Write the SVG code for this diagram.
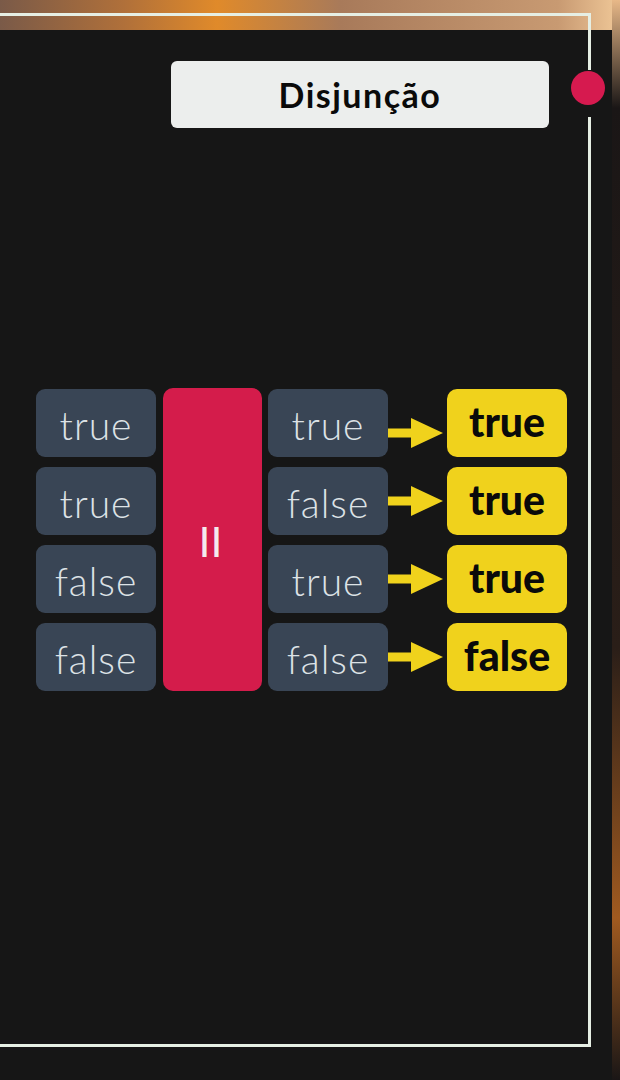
<svg xmlns="http://www.w3.org/2000/svg" width="620" height="1080" viewBox="0 0 620 1080">
<style>
.in{fill:#394555}
.res{fill:#f0d21c}
.tin{font-family:Lato,"Liberation Sans",sans-serif;font-weight:300;font-size:39px;letter-spacing:1px;fill:#dde2e6;text-anchor:middle}
.tres{font-family:Lato,"Liberation Sans",sans-serif;font-weight:900;font-size:41px;fill:#0a0a0a;text-anchor:middle}
.frame{stroke:#e6efe4;stroke-width:3;fill:none}
.arrow{fill:#f0d21c}
</style>
<defs>
<linearGradient id="topbg" x1="0" y1="0" x2="1" y2="0">
<stop offset="0" stop-color="#7a5a48"/>
<stop offset="0.2" stop-color="#b0703a"/>
<stop offset="0.35" stop-color="#e08a2a"/>
<stop offset="0.55" stop-color="#a87a5a"/>
<stop offset="0.9" stop-color="#c89a72"/>
<stop offset="1" stop-color="#f0c898"/>
</linearGradient>
<linearGradient id="rightbg" x1="0" y1="0" x2="0" y2="1">
<stop offset="0" stop-color="#e8b888"/>
<stop offset="0.1" stop-color="#1a1616"/>
<stop offset="0.6" stop-color="#2a1e18"/>
<stop offset="0.85" stop-color="#a05a20"/>
<stop offset="1" stop-color="#1a1616"/>
</linearGradient>
</defs>
<rect x="0" y="0" width="620" height="1080" fill="#161616"/>
<rect x="0" y="0" width="620" height="30" fill="url(#topbg)"/>
<rect x="612" y="0" width="8" height="1080" fill="url(#rightbg)"/>
<rect x="0" y="30" width="612" height="1050" fill="#161616"/>
<g id="frame">
<path class="frame" d="M0 14.5 H589.5 V70"/>
<path class="frame" d="M589.5 117 V1045.5 H0"/>
<circle cx="588" cy="88" r="17" fill="#d61a4f"/>
</g>
<g id="title">
<rect x="171" y="61" width="378" height="67" rx="6" fill="#eceeed"/>
<text x="360" y="108" font-family="Lato,'Liberation Sans',sans-serif" font-weight="700" font-size="34" letter-spacing="1.5" fill="#0a0a0a" text-anchor="middle">Disjunção</text>
</g>
<g id="operator">
<rect x="163" y="388" width="99" height="303" rx="10" fill="#d41c4b"/>
<text x="212" y="550" font-family="'Liberation Sans',sans-serif" font-weight="700" font-size="32" letter-spacing="3" fill="#f4eaee" text-anchor="middle">||</text>
</g>
<g id="a1"><rect class="in" x="36" y="389" width="120" height="68" rx="9"/><text class="tin" x="96" y="440">true</text></g>
<g id="a2"><rect class="in" x="36" y="467" width="120" height="68" rx="9"/><text class="tin" x="96" y="518">true</text></g>
<g id="a3"><rect class="in" x="36" y="545" width="120" height="68" rx="9"/><text class="tin" x="96" y="596">false</text></g>
<g id="a4"><rect class="in" x="36" y="623" width="120" height="68" rx="9"/><text class="tin" x="96" y="674">false</text></g>
<g id="b1"><rect class="in" x="268" y="389" width="120" height="68" rx="9"/><text class="tin" x="328" y="440">true</text></g>
<g id="b2"><rect class="in" x="268" y="467" width="120" height="68" rx="9"/><text class="tin" x="328" y="518">false</text></g>
<g id="b3"><rect class="in" x="268" y="545" width="120" height="68" rx="9"/><text class="tin" x="328" y="596">true</text></g>
<g id="b4"><rect class="in" x="268" y="623" width="120" height="68" rx="9"/><text class="tin" x="328" y="674">false</text></g>
<g id="r1"><rect class="res" x="447" y="389" width="120" height="68" rx="10"/><text class="tres" x="507" y="437">true</text></g>
<g id="r2"><rect class="res" x="447" y="467" width="120" height="68" rx="10"/><text class="tres" x="507" y="515">true</text></g>
<g id="r3"><rect class="res" x="447" y="545" width="120" height="68" rx="10"/><text class="tres" x="507" y="593">true</text></g>
<g id="r4"><rect class="res" x="447" y="623" width="120" height="68" rx="10"/><text class="tres" x="507" y="671">false</text></g>
<g id="connectors">
<path class="arrow" d="M388 428.5 H411 V418 L443 433 L411 448 V437.5 H388 Z"/>
<path class="arrow" d="M388 496.5 H411 V486 L443 501 L411 516 V505.5 H388 Z"/>
<path class="arrow" d="M388 574.5 H411 V564 L443 579 L411 594 V583.5 H388 Z"/>
<path class="arrow" d="M388 652.5 H411 V642 L443 657 L411 672 V661.5 H388 Z"/>
</g>
</svg>
